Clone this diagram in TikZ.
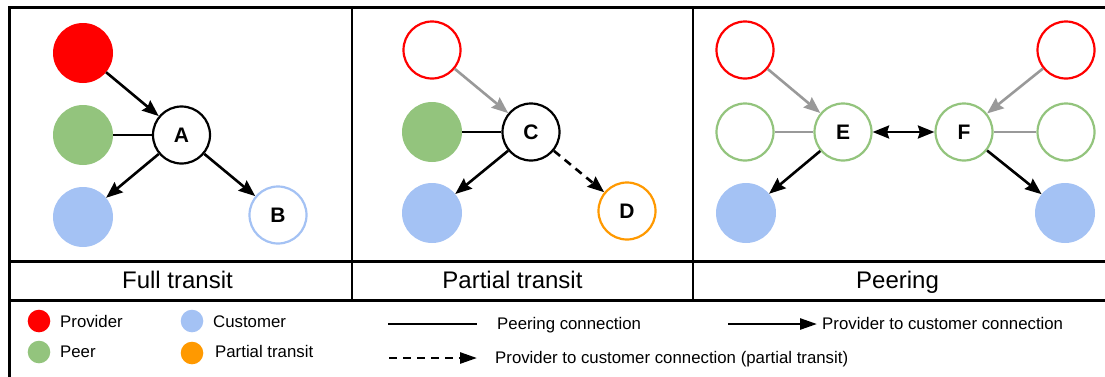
\documentclass[tikz,border=0pt]{standalone}
\usepackage{fontspec}
\setmainfont{Liberation Sans}
\usetikzlibrary{arrows.meta}
\definecolor{provred}{HTML}{FF0000}
\definecolor{peergreen}{HTML}{93C47D}
\definecolor{custblue}{HTML}{A4C2F4}
\definecolor{partorange}{HTML}{FF9900}
\definecolor{linkgray}{HTML}{999999}

\begin{document}
\begin{tikzpicture}[x=1pt,y=-1pt,
  frame/.style={line width=2.5pt, draw=black},
  dot/.style={circle, minimum size=60pt, inner sep=0pt, outer sep=0pt},
  ring/.style={circle, minimum size=57pt, inner sep=0pt, line width=2.2pt, draw, fill=white,
               font=\bfseries\fontsize{21}{21}\selectfont},
  legdot/.style={circle, minimum size=22.6pt, inner sep=0pt},
  legtext/.style={anchor=base west, inner sep=0pt, font=\fontsize{16.8}{20}\selectfont},
  paneltitle/.style={anchor=base, inner sep=0pt, font=\fontsize{24}{28}\selectfont},
  tip/.style={-{Stealth[length=16.5pt,width=13pt,inset=2pt]}},
  bitip/.style={{Stealth[length=16.5pt,width=13pt,inset=2pt]}-{Stealth[length=16.5pt,width=13pt,inset=2pt]}},
  pc/.style={line width=2.6pt, draw=black, tip},
  pcgray/.style={line width=2.6pt, draw=linkgray, tip},
  pcdash/.style={line width=2.6pt, draw=black, dash pattern=on 8pt off 6pt, tip},
  peerline/.style={line width=2.6pt, draw=black},
  peergray/.style={line width=2.6pt, draw=linkgray},
  legtip/.style={-{Triangle[length=17pt,width=11pt]}}
]
\useasboundingbox (0,0) rectangle (1105,376);
\clip (0,0) rectangle (1105,376);

% outer frame, panel dividers and title row
\draw[frame] (1120,7.5) -- (9.5,7.5) -- (9.5,390);
\draw[frame] (9.5,261.5) -- (1120,261.5);
\draw[frame] (9.5,300.5) -- (1120,300.5);
\draw[frame] (352,7.5) -- (352,300.5);
\draw[frame] (693,7.5) -- (693,300.5);

% ---- Full transit ----
\node[dot, fill=provred]  (ftprov) at (83,53) {};
\node[dot, fill=peergreen] (ftpeer) at (83,135) {};
\node[dot, fill=custblue] (ftcust) at (83,217) {};
\node[ring] (A) at (181.5,135) {A};
\node[ring, draw=custblue] (B) at (278,215) {B};
\draw[pc] (ftprov) -- (A);
\draw[peerline] (ftpeer) -- (A);
\draw[pc] (A) -- (ftcust);
\draw[pc] (A) -- (B);
\node[paneltitle] (ttlfull) at (177.5,288.3) {Full transit};

% ---- Partial transit ----
\node[ring, draw=provred] (ptprov) at (432,50) {};
\node[dot, fill=peergreen] (ptpeer) at (432,132) {};
\node[dot, fill=custblue] (ptcust) at (432,213) {};
\node[ring] (C) at (531,132) {C};
\node[ring, draw=partorange] (D) at (627,211) {D};
\draw[pcgray] (ptprov) -- (C);
\draw[peerline] (ptpeer) -- (C);
\draw[pc] (C) -- (ptcust);
\draw[pcdash] (C) -- (D);
\node[paneltitle] (ttlpart) at (512.5,288.3) {Partial transit};

% ---- Peering ----
\node[ring, draw=provred] (peprovE) at (745,50) {};
\node[ring, draw=peergreen] (pepeerE) at (745,132) {};
\node[dot, fill=custblue] (pecustE) at (746,213) {};
\node[ring, draw=peergreen] (E) at (843,132) {E};
\node[ring, draw=peergreen] (F) at (964,132) {F};
\node[ring, draw=provred] (peprovF) at (1066,50) {};
\node[ring, draw=peergreen] (pepeerF) at (1066,132) {};
\node[dot, fill=custblue] (pecustF) at (1065,213) {};
\draw[pcgray] (peprovE) -- (E);
\draw[peergray] (pepeerE) -- (E);
\draw[pc] (E) -- (pecustE);
\draw[line width=2.6pt, bitip] (E) -- (F);
\draw[pcgray] (peprovF) -- (F);
\draw[peergray] (pepeerF) -- (F);
\draw[pc] (F) -- (pecustF);
\node[paneltitle] (ttlpeer) at (897.5,288.3) {Peering};

% ---- Legend ----
\node[legdot, fill=provred] (lgprov) at (39,321) {};
\node[legtext] (lgprovt) at (60,327.3) {Provider};
\node[legdot, fill=custblue] (lgcust) at (192,321) {};
\node[legtext] (lgcustt) at (213,327.3) {Customer};
\node[legdot, fill=peergreen] (lgpeer) at (39,352) {};
\node[legtext] (lgpeert) at (60,357.7) {Peer};
\node[legdot, fill=partorange] (lgpart) at (192,353) {};
\node[legtext] (lgpartt) at (215,357.7) {Partial transit};

\coordinate (lgsolidA) at (388,324);
\coordinate (lgsolidB) at (477,324);
\draw[line width=2.6pt] (lgsolidA) -- (lgsolidB);
\node[legtext] (lgsolidt) at (497,329.3) {Peering connection};

\coordinate (lgarrA) at (728,324);
\coordinate (lgarrB) at (817,324);
\draw[line width=2.6pt, legtip] (lgarrA) -- (lgarrB);
\node[legtext] (lgarrt) at (822,329.3) {Provider to customer connection};

\coordinate (lgdashA) at (389,358);
\coordinate (lgdashB) at (477,358);
\draw[line width=2.6pt, dash pattern=on 8pt off 6pt, legtip] (lgdashA) -- (lgdashB);
\node[legtext] (lgdasht) at (495,363.5) {Provider to customer connection (partial transit)};
\end{tikzpicture}
\end{document}
